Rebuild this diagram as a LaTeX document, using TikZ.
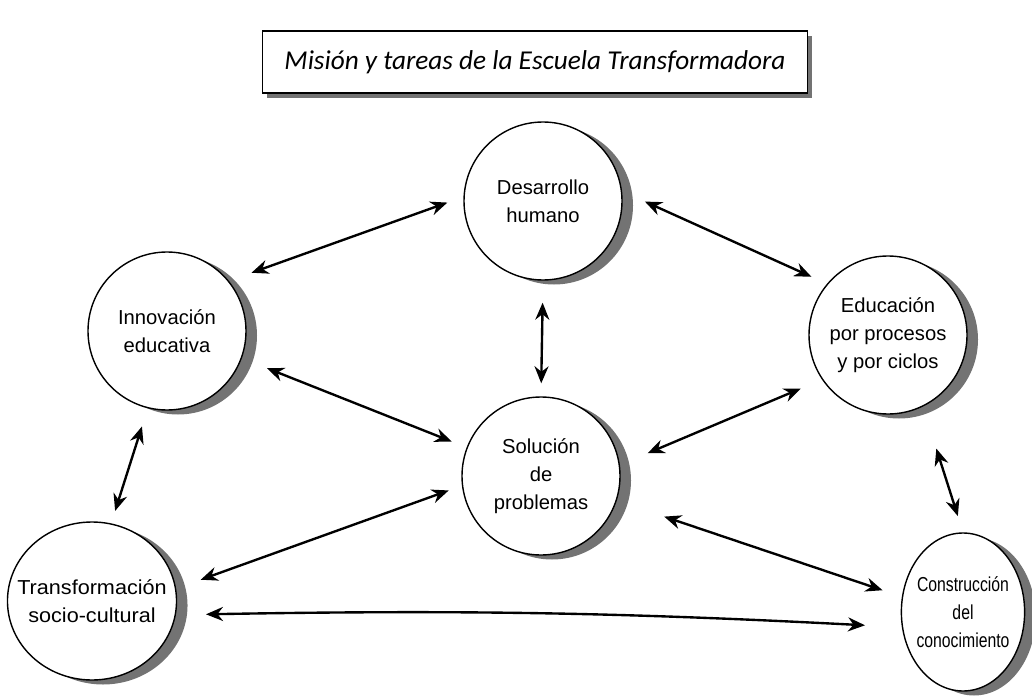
\documentclass[tikz,border=0pt]{standalone}
\usepackage{fontspec}
\usepackage{tikz}
\usetikzlibrary{calc}
\usetikzlibrary{arrows.meta,shadows,shapes}
\usetikzlibrary{positioning}
\newfontfamily\tareafont{Liberation Sans}
\newfontfamily\titulofont{Carlito}
\tikzset{
  tarea/.style={circle,draw=black,line width=0.8pt,fill=white,minimum size=3.16cm,
    inner sep=0pt,align=center,font=\tareafont\fontsize{11.5}{16}\selectfont,
    drop shadow={shadow xshift=0.22cm,shadow yshift=-0.09cm,fill=black!55,opacity=1}},
  titulo/.style={rectangle,draw=black,line width=0.8pt,fill=white,minimum width=10.9cm,
    minimum height=1.24cm,font=\titulofont\itshape\fontsize{15.5}{18}\selectfont,
    drop shadow={shadow xshift=0.08cm,shadow yshift=-0.1cm,fill=black!55,opacity=1}},
  enlace/.style={<->,>={Stealth[length=3.4mm,width=2.8mm]},line width=1.35pt}
}

\begin{document}
\begin{tikzpicture}
    \useasboundingbox (0,0) rectangle (20.64,13.96);
    \node[titulo] (tit) at (10.70,12.72) {Misión y tareas de la Escuela Transformadora};

    \node[tarea] (dh) at (10.86,9.94) {Desarrollo\\humano};
    \node[tarea] (ie) at (3.34,7.34) {Innovación\\educativa};
    \node[tarea] (ep) at (17.76,7.26) {Educación\\por procesos\\y por ciclos};
    \node[tarea] (sp) at (10.82,4.44) {Solución\\de\\problemas};
    \node[tarea,xscale=1.07,transform shape] (ts) at (1.84,1.94) {Transformación\\socio-cultural};
    \node[tarea,xscale=0.78,transform shape] (cc) at (19.26,1.72) {Construcción\\del\\conocimiento};

    \draw[enlace,shorten <=0.34cm,shorten >=0.48cm] (dh.177) -- (ie.39);
    \draw[enlace,shorten <=0.5cm,shorten >=0.34cm] (dh.7) -- (ep.140);
    \draw[enlace,shorten <=0.44cm,shorten >=0.26cm] (dh.south) -- (sp.north);
    \draw[enlace,shorten <=0.54cm,shorten >=0.32cm] (ie.-20) -- (sp.159);
    \draw[enlace,shorten <=0.46cm,shorten >=0.6cm] (ep.214) -- (sp.8.5);
    \draw[enlace,shorten <=0.38cm,shorten >=0.26cm] (ie.-104) -- (ts.77);
    \draw[enlace,shorten <=0.28cm,shorten >=0.52cm] (sp.187) -- (ts.9);
    \draw[enlace,shorten <=1.0cm,shorten >=0.41cm] (sp.-18) -- (cc.169);
    \draw[enlace,shorten <=0.88cm,shorten >=0.34cm] (ep.-64) -- (cc.north);
    \draw[enlace,shorten <=0.6cm,shorten >=0.74cm] (ts.-10) to[bend left=2] (cc.191);
\end{tikzpicture}
\end{document}
